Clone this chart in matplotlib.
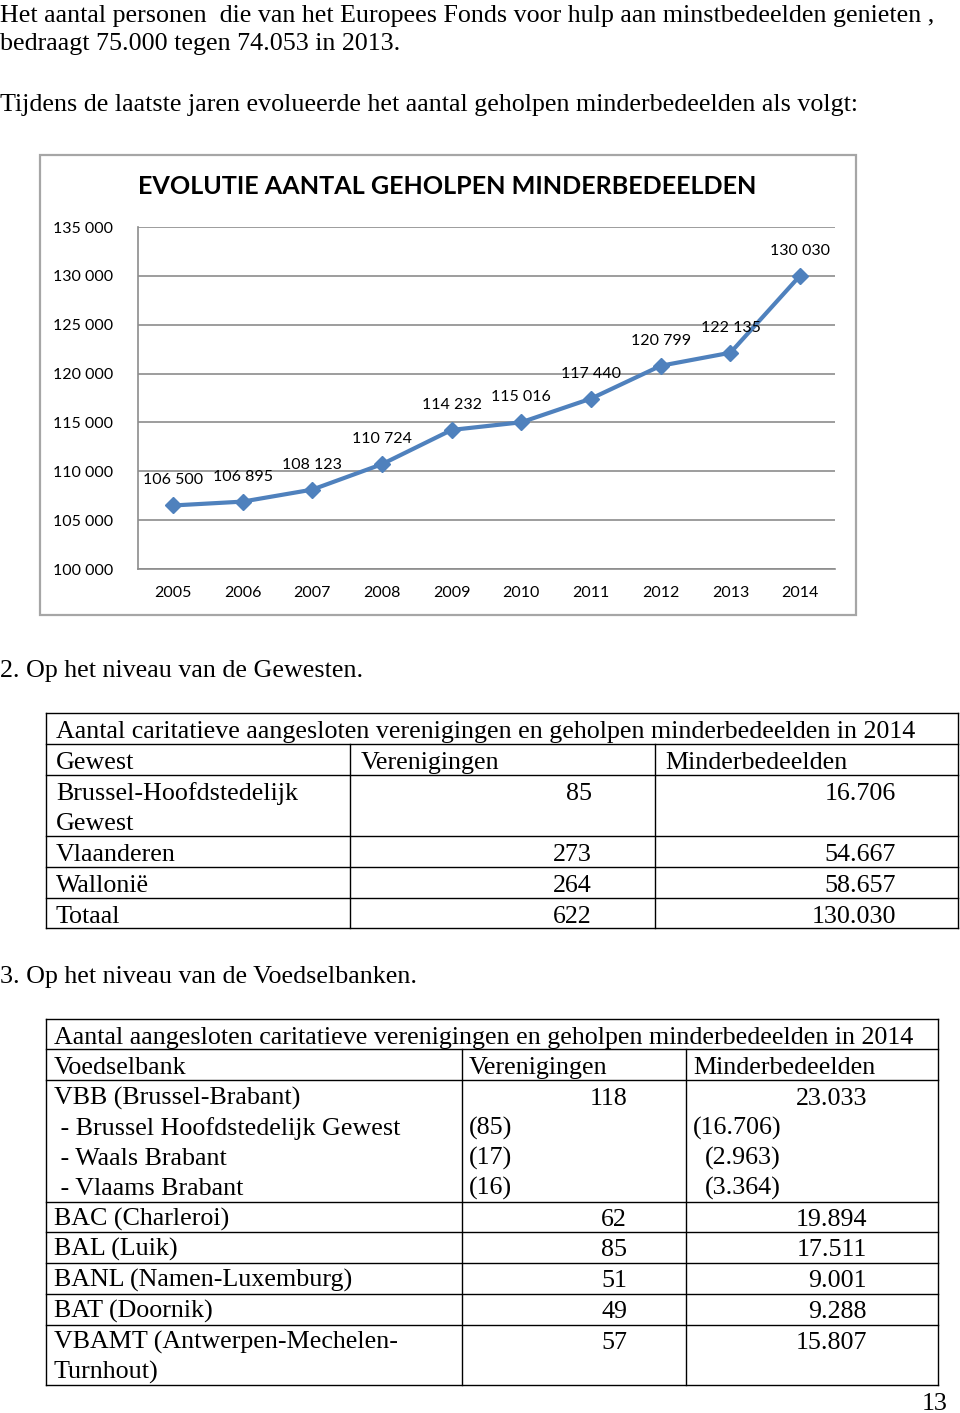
import matplotlib.pyplot as plt
from matplotlib.patches import Rectangle

# chart data
years = ['2005', '2006', '2007', '2008', '2009', '2010', '2011', '2012', '2013', '2014']
helped = [106500, 106895, 108123, 110724, 114232, 115016, 117440, 120799, 122135, 130030]
y_ticks = [100000, 105000, 110000, 115000, 120000, 125000, 130000, 135000]

# table 1 (regions)
regions = ['Brussel-Hoofdstedelijk\nGewest', 'Vlaanderen', 'Wallonië', 'Totaal']
region_assoc = ['85', '273', '264', '622']
region_people = ['16.706', '54.667', '58.657', '130.030']

# table 2 (food banks)
banks = ['BAC (Charleroi)', 'BAL (Luik)', 'BANL (Namen-Luxemburg)', 'BAT (Doornik)',
         'VBAMT (Antwerpen-Mechelen-\nTurnhout)']
bank_assoc = ['62', '85', '51', '49', '57']
bank_people = ['19.894', '17.511', '9.001', '9.288', '15.807']
vbb_sub = [' - Brussel Hoofdstedelijk Gewest', ' - Waals Brabant', ' - Vlaams Brabant']
vbb_sub_assoc = ['(85)', '(17)', '(16)']
vbb_sub_people = ['(16.706)', '(2.963)', '(3.364)']

SERIF = 'Liberation Serif'
FS = 18.7
CHART_FONT = ['Lato', 'DejaVu Sans']

W, H = 960, 1413
fig = plt.figure(figsize=(W / 100, H / 100), dpi=100)
page = fig.add_axes([0, 0, 1, 1])
page.set_xlim(0, W)
page.set_ylim(H, 0)
page.axis('off')


def txt(x, y, s, ha='left', **kw):
    page.text(x, y, s, ha=ha, va='baseline', family=SERIF, fontsize=FS,
              linespacing=1.28, **kw)


def hline(y, x0, x1):
    page.plot([x0, x1], [y, y], color='black', lw=1)


def vline(x, y0, y1):
    page.plot([x, x], [y0, y1], color='black', lw=1)


# body text
txt(0, 22, 'Het aantal personen  die van het Europees Fonds voor hulp aan minstbedeelden genieten ,')
txt(0, 50, 'bedraagt 75.000 tegen 74.053 in 2013.')
txt(0, 111, 'Tijdens de laatste jaren evolueerde het aantal geholpen minderbedeelden als volgt:')
txt(0, 677, '2. Op het niveau van de Gewesten.')
txt(0, 983, '3. Op het niveau van de Voedselbanken.')
txt(948, 1410, '13', ha='right')

# chart frame
page.add_patch(Rectangle((40, 155), 816, 460, fill=False, edgecolor='#A6A6A6', lw=1.6))
page.text(138, 187, 'EVOLUTIE AANTAL GEHOLPEN MINDERBEDEELDEN', ha='left', va='center',
          family=CHART_FONT, fontsize=18.1, fontweight='bold')

ax = fig.add_axes([138 / W, 1 - 569 / H, 697 / W, (569 - 227) / H])
x = list(range(len(years)))
ax.plot(x, helped, color='#4F81BD', lw=3, marker='D', markersize=8)
for i, v in enumerate(helped):
    ax.annotate(f'{v:,}'.replace(',', ' '), (i, v), xytext=(0, 18), textcoords='offset points',
                ha='center', va='center', family=CHART_FONT, fontsize=11.5)
ax.set_xlim(-0.5, len(years) - 0.5)
ax.set_ylim(100000, 135000)
ax.set_yticks(y_ticks)
ax.set_yticklabels([f'{t:,}'.replace(',', ' ') for t in y_ticks], family=CHART_FONT, fontsize=11.5)
ax.set_xticks(x)
ax.set_xticklabels(years, family=CHART_FONT, fontsize=11.5)
ax.tick_params(length=0)
ax.tick_params(axis='y', pad=18)
ax.tick_params(axis='x', pad=12)
ax.yaxis.grid(True, color='#8C8C8C', lw=1.2)
ax.set_axisbelow(True)
ax.set_facecolor('none')
for s in ['top', 'right']:
    ax.spines[s].set_visible(False)
for s in ['left', 'bottom']:
    ax.spines[s].set_color('#8C8C8C')
    ax.spines[s].set_linewidth(1.2)

# table 1
t1_x0, t1_x1 = 46, 958
c1, c2 = 350, 655
t1_rows = [713, 744, 775, 836, 867, 898, 928]
for y in t1_rows:
    hline(y, t1_x0, t1_x1)
vline(t1_x0, 713, 928)
vline(t1_x1, 713, 928)
vline(c1, 744, 928)
vline(c2, 744, 928)
txt(56, 738, 'Aantal caritatieve aangesloten verenigingen en geholpen minderbedeelden in 2014')
txt(56, 769, 'Gewest')
txt(361, 769, 'Verenigingen')
txt(665, 769, 'Minderbedeelden')
for i, name in enumerate(regions):
    top = t1_rows[i + 2]
    txt(56, top + 25, name.split('\n')[0])
    if '\n' in name:
        txt(56, top + 55, name.split('\n')[1])
    txt(592, top + 25, region_assoc[i], ha='right')
    txt(896, top + 25, region_people[i], ha='right')

# table 2
t2_x0, t2_x1 = 46, 938
d1, d2 = 462, 686
t2_rows = [1019, 1049, 1080, 1202, 1232, 1263, 1294, 1325, 1385]
for y in t2_rows:
    hline(y, t2_x0, t2_x1)
vline(t2_x0, 1019, 1385)
vline(t2_x1, 1019, 1385)
vline(d1, 1049, 1385)
vline(d2, 1049, 1385)
txt(54, 1044, 'Aantal aangesloten caritatieve verenigingen en geholpen minderbedeelden in 2014')
txt(54, 1074, 'Voedselbank')
txt(469, 1074, 'Verenigingen')
txt(693, 1074, 'Minderbedeelden')
txt(54, 1105, 'VBB (Brussel-Brabant)')
txt(627, 1105, '118', ha='right')
txt(867, 1105, '23.033', ha='right')
for i, name in enumerate(vbb_sub):
    yb = 1135 + 30 * i
    txt(54, yb, name)
    txt(469, yb, vbb_sub_assoc[i])
    txt(781, yb, vbb_sub_people[i], ha='right')
for i, name in enumerate(banks):
    top = t2_rows[i + 3]
    lines = name.split('\n')
    txt(54, top + 24, lines[0])
    if len(lines) > 1:
        txt(54, top + 54, lines[1])
    txt(627, top + 24, bank_assoc[i], ha='right')
    txt(867, top + 24, bank_people[i], ha='right')

fig.savefig('out.png', dpi=100)
